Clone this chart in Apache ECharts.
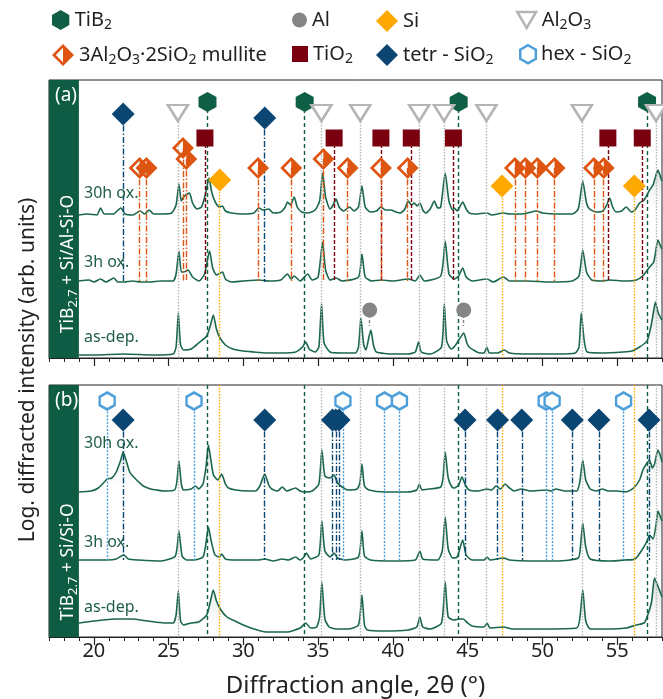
<!DOCTYPE html>
<html>
<head>
<meta charset="utf-8">
<title>XRD TiB2.7 + Si/Al-Si-O</title>
<script src="https://cdn.jsdelivr.net/npm/echarts@6/dist/echarts.min.js"></script>
<style>
  html, body { margin: 0; padding: 0; background: #fff; }
  #chart { width: 663px; height: 699px; }
</style>
</head>
<body>
<div id="chart"></div>
<script>
// ---- diffractograms, [2theta, log intensity above own baseline] ----
const a30h = [[19.0,0],[19.6,1],[20.2,0],[20.45,7],[20.7,1],[21.3,1],[21.8,7],[22.1,1],[22.6,0],[23.1,4],[23.4,1],[23.7,5],[24.0,1],[24.6,1],[25.2,2],[25.5,10],[25.69,31],[25.85,14],[26.0,18],[26.25,21],[26.4,22],[26.6,12],[26.9,6],[27.2,8],[27.45,20],[27.7,37],[27.9,22],[28.15,12],[28.4,8],[28.6,9],[28.8,4],[29.2,2],[30.0,1],[30.7,2],[31.05,7],[31.3,5],[31.7,6],[32.0,2],[32.5,3],[32.8,8],[32.95,13],[33.15,10],[33.4,18],[33.6,8],[33.9,3],[34.3,2],[34.8,5],[35.1,14],[35.3,42],[35.5,18],[35.8,6],[36.0,10],[36.2,16],[36.4,8],[36.7,4],[37.1,8],[37.4,4],[37.7,8],[37.93,29],[38.15,8],[38.5,3],[38.9,4],[39.2,8],[39.5,5],[39.87,5],[40.2,3],[40.5,2],[40.8,6],[41.03,14],[41.25,10],[41.43,12],[41.62,9],[41.81,12],[42.0,5],[42.2,2],[42.5,6],[42.77,14],[43.0,7],[43.2,8],[43.5,42],[43.75,14],[44.0,5],[44.1,7],[44.3,4],[44.67,13],[44.9,6],[45.1,2],[45.5,1],[46.3,2],[46.6,0],[47.4,2],[47.8,1],[48.5,1],[49.0,2],[49.58,4],[50.0,2],[51.0,1],[52.0,1],[52.4,6],[52.7,34],[52.95,12],[53.15,6],[53.6,3],[54.04,4],[54.3,10],[54.5,17],[54.7,8],[54.94,3],[55.3,4],[55.61,8],[55.95,3],[56.2,5],[56.5,12],[56.8,15],[57.17,25],[57.4,30],[57.6,40],[57.73,45],[57.9,38],[58.0,34]];
const a3h = [[19.0,1],[19.67,2],[20.0,0],[20.45,3],[20.8,0],[21.34,4],[21.6,0],[22.0,0],[22.6,1],[23.1,0],[23.7,0],[24.5,1],[25.3,1],[25.5,8],[25.69,31],[25.85,10],[26.0,10],[26.3,12],[26.6,5],[27.03,1],[27.4,8],[27.74,31],[27.95,14],[28.2,7],[28.6,10],[28.8,3],[29.2,0],[30.0,1],[31.05,2],[31.7,1],[32.5,2],[32.95,8],[33.2,3],[33.4,6],[33.8,1],[34.3,8],[34.6,2],[35.0,5],[35.3,40],[35.5,12],[35.8,2],[36.2,4],[36.6,1],[37.7,5],[37.93,28],[38.15,5],[38.6,1],[39.2,2],[40.0,1],[41.03,3],[41.5,1],[41.81,7],[42.1,1],[43.2,6],[43.5,41],[43.75,8],[44.1,3],[44.4,6],[44.67,14],[44.9,5],[45.3,1],[46.3,3],[46.7,0],[47.4,5],[47.8,1],[49.0,1],[50.5,0],[52.0,1],[52.45,6],[52.7,32],[52.95,10],[53.3,2],[54.0,1],[54.5,2],[55.5,1],[56.28,2],[56.7,6],[57.17,15],[57.45,20],[57.73,42],[57.9,36],[58.0,33]];
const aAsDep = [[19.0,0],[20.0,0],[22.0,1],[24.0,0],[25.3,1],[25.5,8],[25.65,42],[25.8,10],[26.0,5],[26.5,6],[27.0,12],[27.55,19],[27.8,30],[27.99,40],[28.2,26],[28.4,18],[28.8,10],[29.3,6],[30.0,4],[30.7,3],[31.5,2],[32.5,2],[33.5,3],[33.95,8],[34.17,13],[34.4,6],[34.8,3],[35.05,8],[35.23,51],[35.4,12],[35.8,3],[36.5,2],[37.5,2],[37.7,8],[37.86,37],[38.05,10],[38.2,5],[38.4,18],[38.53,25],[38.7,10],[38.9,3],[40.0,1],[41.0,1],[41.5,3],[41.72,13],[41.9,3],[42.5,1],[43.25,8],[43.44,51],[43.6,14],[43.9,6],[44.2,10],[44.45,16],[44.74,22],[44.95,12],[45.1,8],[45.5,4],[45.8,2],[46.1,2],[46.28,8],[46.45,2],[47.0,2],[47.46,5],[47.8,2],[49.0,1],[51.0,1],[52.2,2],[52.45,8],[52.6,42],[52.8,14],[53.0,3],[54.0,2],[55.4,3],[56.0,4],[56.5,8],[57.0,14],[57.28,30],[57.45,45],[57.56,53],[57.75,42],[58.0,35]];

const b30h = [[19.0,0],[19.8,1],[20.3,4],[20.7,10],[20.9,13],[21.2,14],[21.5,20],[21.8,32],[21.96,40],[22.15,32],[22.4,20],[22.6,16],[23.0,10],[23.3,6],[23.8,3],[24.2,2],[24.8,1],[25.4,2],[25.55,10],[25.69,31],[25.85,8],[26.0,2],[26.5,3],[26.8,6],[27.0,3],[27.3,8],[27.5,25],[27.66,47],[27.85,30],[28.0,17],[28.3,12],[28.55,18],[28.8,8],[29.0,4],[29.5,2],[30.3,1],[30.8,1],[31.1,6],[31.43,18],[31.7,7],[31.9,3],[32.3,1],[32.6,5],[32.9,1],[33.5,4],[33.8,1],[34.1,0],[34.6,1],[35.05,8],[35.25,42],[35.45,16],[35.74,14],[35.9,15],[36.07,17],[36.3,9],[36.6,5],[37.0,2],[37.6,3],[37.8,10],[37.93,28],[38.1,6],[38.4,2],[39.5,0],[41.0,0],[41.6,2],[41.77,8],[41.95,2],[42.4,3],[43.2,5],[43.35,14],[43.5,40],[43.7,14],[43.95,5],[44.1,4],[44.4,7],[44.62,15],[44.85,7],[45.1,2],[45.7,1],[46.28,3],[46.6,2],[46.9,6],[47.2,3],[47.5,8],[47.8,4],[48.1,1],[48.6,3],[49.2,1],[50.25,2],[50.6,1],[50.9,3],[51.5,1],[52.3,1],[52.5,10],[52.7,32],[52.9,12],[53.2,3],[53.6,1],[54.0,3],[54.4,1],[55.0,1],[55.6,0],[56.1,4],[56.5,12],[56.72,22],[56.95,28],[57.17,32],[57.35,24],[57.5,28],[57.73,42],[57.9,36],[58.0,30]];
const b3h = [[19.0,1],[20.0,1],[20.9,1],[21.5,2],[22.0,6],[22.3,2],[23.0,1],[24.5,0],[25.45,5],[25.69,30],[25.9,5],[26.2,1],[26.7,1],[27.3,4],[27.5,18],[27.66,34],[27.85,20],[28.1,6],[28.4,4],[28.55,7],[28.8,2],[29.5,1],[31.0,1],[31.43,2],[32.0,0],[32.6,2],[33.0,1],[33.5,4],[33.8,1],[34.05,4],[34.22,8],[34.5,2],[35.05,6],[35.25,40],[35.45,10],[35.8,4],[36.07,8],[36.3,3],[36.8,1],[37.7,4],[37.93,30],[38.1,5],[38.5,1],[40.0,0],[41.5,1],[41.81,10],[42.0,2],[43.0,1],[43.3,10],[43.5,44],[43.7,12],[44.0,3],[44.3,4],[44.67,21],[44.9,6],[45.3,1],[46.1,1],[46.3,4],[46.5,1],[47.4,3],[47.8,1],[49.5,0],[51.0,0],[52.4,3],[52.55,15],[52.7,38],[52.9,14],[53.2,2],[54.5,0],[55.5,1],[56.2,2],[56.7,12],[57.0,20],[57.17,26],[57.4,22],[57.6,36],[57.73,50],[57.9,44],[58.0,40]];
const bAsDep = [[19.0,14],[20.0,16],[21.4,18],[22.5,18],[23.6,16],[24.7,14],[25.3,14],[25.5,22],[25.65,46],[25.8,16],[26.0,12],[26.5,14],[27.0,15],[27.55,22],[27.8,36],[27.99,47],[28.2,36],[28.5,27],[28.9,20],[29.3,17],[30.0,12],[30.7,8],[31.5,5],[32.2,5],[32.9,5],[33.8,9],[34.17,14],[34.5,9],[34.9,10],[35.1,20],[35.25,55],[35.45,18],[35.74,10],[36.2,8],[37.0,8],[37.7,12],[37.93,42],[38.1,12],[38.3,7],[39.5,6],[41.0,7],[41.6,10],[41.8,20],[42.0,10],[42.5,8],[43.25,14],[43.5,55],[43.7,20],[44.1,17],[44.4,18],[44.7,18],[45.0,14],[45.3,11],[46.1,10],[46.3,14],[46.5,9],[47.4,10],[48.0,8],[50.0,8],[52.3,9],[52.5,18],[52.7,47],[52.9,16],[53.2,8],[54.5,8],[55.6,9],[56.3,12],[56.8,14],[57.0,20],[57.3,35],[57.5,59],[57.7,52],[58.0,40]];

// vertical offsets of the stacked patterns (30h, 3h, as-dep)
const offsetsA = [143, 76, 3];
const offsetsB = [145, 76, 0];
const curveNames = ['30h ox.', '3h ox.', 'as-dep.'];

// ---- reference peak positions (2theta) ----
const tib2Peaks = [27.6, 34.1, 44.4, 57.0];
const al2o3Peaks = [25.62, 35.22, 37.82, 41.76, 43.42, 46.26, 52.64, 57.6];
const siPeaks = [28.42, 47.3, 56.15];
const alPeaks = [38.45, 44.74];
const tio2Peaks = [27.43, 36.07, 39.2, 41.23, 44.05, 54.38, 56.68];
const mullitePeaks = [23.06, 23.52, 25.96, 26.18, 30.98, 33.2, 35.35, 36.97, 39.2, 40.99, 48.16, 48.86, 49.66, 50.81, 53.44, 54.1];
const tetrPeaksA = [21.96, 31.43];
const tetrPeaksB = [21.96, 31.43, 35.96, 36.18, 36.4, 44.83, 47.0, 48.62, 52.0, 53.78, 57.13];
const hexPeaksB = [20.89, 26.7, 36.66, 39.44, 40.44, 50.25, 50.65, 55.43];
const tickValues = [20, 25, 30, 35, 40, 45, 50, 55];

// marker rows (height of the tag above the panel floor)
const mulliteRows = [190, 190, 210, 199, 190, 190, 199, 190, 190, 190, 190, 190, 190, 190, 190, 190];
const siRows = [178, 172, 172];
const tetrRowsA = [244, 240];

const FONT = 'Noto Sans';
const GREEN = '#1a674b';
const hexPath = 'path://M10,0 L18.66,5 L18.66,15 L10,20 L1.34,15 L1.34,5 Z';
const triPath = 'path://M0,0 L20,0 L10,17 Z';
const mullitePath = 'path://M10,0 L20,10 L10,20 L0,10 Z M3.5,10 L10,16.5 L10,3.5 Z';

const C = {
  tib2: '#0e5f45', al: '#858585', si: '#ffa800', al2o3: '#b5b5b5',
  mullite: '#dd5511', tio2: '#7a0010', tetr: '#0b4673', hex: '#4d9fd9'
};

const chart = echarts.init(document.getElementById('chart'));

function curveSeries(data, off, axis) {
  return {
    type: 'line', xAxisIndex: axis * 2, yAxisIndex: axis,
    data: data.map(p => [p[0], p[1] + off]),
    showSymbol: false, smooth: 0.2, silent: true, z: 4,
    lineStyle: { color: GREEN, width: 1.6 },
    areaStyle: {
      origin: off,
      color: new echarts.graphic.LinearGradient(0, 0, 0, 1, [
        { offset: 0, color: 'rgba(40,80,60,0.30)' },
        { offset: 1, color: 'rgba(255,255,255,0)' }
      ])
    }
  };
}

function markers(name, peaks, rows, axis, symbol, size, style) {
  return {
    name: name, type: 'scatter', xAxisIndex: axis * 2, yAxisIndex: axis,
    data: peaks.map((x, i) => [x, Array.isArray(rows) ? rows[i] : rows]),
    symbol: symbol, symbolSize: size, itemStyle: Object.assign({ opacity: 1 }, style), z: 10, silent: true
  };
}

function drops(name, peaks, tops, bottom, axis, color, dash) {
  return {
    name: name, type: 'scatter', xAxisIndex: axis * 2, yAxisIndex: axis, data: [], z: 2,
    markLine: {
      silent: true, symbol: ['none', 'none'], label: { show: false },
      lineStyle: { color: color, width: 1.4, type: dash, opacity: 1 },
      emphasis: { disabled: true },
      data: peaks.map((x, i) => [
        { coord: [x, Array.isArray(tops) ? tops[i] : tops] },
        { coord: [x, bottom] }
      ])
    }
  };
}

function band(axis) {
  return {
    type: 'scatter', xAxisIndex: axis * 2, yAxisIndex: axis, data: [], z: 1,
    markArea: {
      silent: true, itemStyle: { color: '#0e5c43', opacity: 1 },
      data: [[{ xAxis: 17 }, { xAxis: 19 }]]
    }
  };
}

function xAxes(grid, labels) {
  return [{
    gridIndex: grid, type: 'value', min: 17, max: 58, position: 'bottom',
    axisLine: { lineStyle: { color: '#222', width: 1 } },
    axisTick: { customValues: tickValues, length: 8, lineStyle: { color: '#222', width: 1.2 } },
    axisLabel: { show: labels, customValues: tickValues, fontSize: 20, color: '#222', fontFamily: FONT, margin: 4 },
    splitLine: { show: false },
    name: labels ? 'Diffraction angle, 2θ (°)' : '',
    nameLocation: 'middle', nameGap: 37,
    nameTextStyle: { fontSize: 24, color: '#222', fontFamily: FONT }
  }, {
    gridIndex: grid, type: 'value', min: 17, max: 58, interval: 1, position: 'bottom',
    axisLine: { show: false },
    axisTick: { length: 4, lineStyle: { color: '#222', width: 1 } },
    axisLabel: { show: false }, splitLine: { show: false }
  }];
}

const dashDot = [6, 2, 1.5, 2];
const dotted = [1.5, 1.5];
const dashed = [4, 3];

const series = [
  band(0), band(1),
  // panel (a) drop lines
  drops('tib2a', tib2Peaks, 256, 0, 0, C.tib2, dashed),
  drops('al2o3a', al2o3Peaks, 245, 0, 0, C.al2o3, dotted),
  drops('sia', siPeaks, siRows, 0, 0, C.si, dotted),
  drops('tio2a', tio2Peaks, 220, 76, 0, C.tio2, [4, 2]),
  drops('mullitea', mullitePeaks, mulliteRows, 76, 0, C.mullite, dashDot),
  drops('tetra', tetrPeaksA, tetrRowsA, 76, 0, C.tetr, dashDot),
  drops('ala', alPeaks, 48, 32, 0, C.al, [3, 2]),
  // panel (b) drop lines
  drops('tib2b', tib2Peaks, 252, 0, 1, C.tib2, dashed),
  drops('al2o3b', al2o3Peaks, 252, 0, 1, C.al2o3, dotted),
  drops('sib', siPeaks, 252, 0, 1, C.si, dotted),
  drops('hexb', hexPeaksB, 236, 77, 1, C.hex, [2, 1.5]),
  drops('tetrb', tetrPeaksB, 217, 77, 1, C.tetr, dashDot),
  // curves
  curveSeries(a30h, offsetsA[0], 0), curveSeries(a3h, offsetsA[1], 0), curveSeries(aAsDep, offsetsA[2], 0),
  curveSeries(b30h, offsetsB[0], 1), curveSeries(b3h, offsetsB[1], 1), curveSeries(bAsDep, offsetsB[2], 1),
  // markers panel (a)
  markers('TiB2', tib2Peaks, 256, 0, hexPath, [18, 20], { color: C.tib2 }),
  markers('Al2O3', al2o3Peaks, 245, 0, triPath, [20, 16], { color: '#fff', borderColor: C.al2o3, borderWidth: 2.5 }),
  markers('TiO2', tio2Peaks, 220, 0, 'rect', 17, { color: C.tio2 }),
  markers('mullite', mullitePeaks, mulliteRows, 0, mullitePath, 22, { color: C.mullite }),
  markers('Si', siPeaks, siRows, 0, 'diamond', 23, { color: C.si }),
  markers('tetr', tetrPeaksA, tetrRowsA, 0, 'diamond', 23, { color: C.tetr }),
  markers('Al', alPeaks, 48, 0, 'circle', 15, { color: C.al }),
  // markers panel (b)
  markers('hex', hexPeaksB, 236, 1, hexPath, [15, 17], { color: '#fff', borderColor: C.hex, borderWidth: 2.5 }),
  markers('tetr', tetrPeaksB, 217, 1, 'diamond', 23, { color: C.tetr })
];

const legendText = {
  'TiB2': '{t|TiB}{s|2}',
  'Al': '{t|Al}',
  'Si': '{t|Si}',
  'Al2O3': '{t|Al}{s|2}{t|O}{s|3}',
  'mullite': '{t|3Al}{s|2}{t|O}{s|3}{t|·2SiO}{s|2}{t| mullite}',
  'TiO2': '{t|TiO}{s|2}',
  'tetr': '{t|tetr - SiO}{s|2}',
  'hex': '{t|hex - SiO}{s|2}'
};
const rich = {
  t: { fontSize: 20, color: '#222', fontFamily: FONT },
  s: { fontSize: 14, color: '#222', fontFamily: FONT, padding: [11, 0, 0, 0] }
};
function legendItem(name, left, top, icon, w, h, style) {
  return {
    left: left, top: top, selectedMode: false, itemWidth: w, itemHeight: h, itemGap: 0,
    data: [{ name: name, icon: icon, itemStyle: Object.assign({ opacity: 1 }, style) }],
    formatter: n => legendText[n],
    textStyle: { rich: rich, fontSize: 20, fontFamily: FONT }
  };
}

const legends = [
  legendItem('TiB2', 47, 5, hexPath, 18, 20, { color: C.tib2 }),
  legendItem('Al', 287, 5, 'circle', 15, 15, { color: C.al }),
  legendItem('Si', 371, 5, 'diamond', 22, 22, { color: C.si }),
  legendItem('Al2O3', 511, 5, triPath, 20, 16, { color: '#fff', borderColor: C.al2o3, borderWidth: 2.5 }),
  legendItem('mullite', 47, 39, mullitePath, 22, 22, { color: C.mullite }),
  legendItem('TiO2', 287, 39, 'rect', 16, 16, { color: C.tio2 }),
  legendItem('tetr', 371, 39, 'diamond', 22, 22, { color: C.tetr }),
  legendItem('hex', 514, 39, hexPath, 16, 18, { color: '#fff', borderColor: C.hex, borderWidth: 2.5 })
];

function label(text, x, y) {
  return { type: 'text', x: x, y: y, z: 20, silent: true,
    style: { text: text, fill: '#1f5e48', font: '16px "Noto Sans"', verticalAlign: 'middle' } };
}
const bandRich = {
  t: { fontSize: 17.5, fill: '#fff', fontFamily: FONT },
  s: { fontSize: 13, fill: '#fff', fontFamily: FONT, padding: [10, 0, 0, 0] }
};

const graphics = [
  { type: 'text', x: 28, y: 370, rotation: Math.PI / 2, silent: true,
    style: { text: 'Log. diffracted intensity (arb. units)', fill: '#222', font: '21px "Noto Sans"', align: 'center', verticalAlign: 'middle' } },
  { type: 'text', x: 55, y: 96, z: 20, silent: true, style: { text: '(a)', fill: '#fff', font: '19px "Noto Sans"', verticalAlign: 'middle' } },
  { type: 'text', x: 55, y: 401, z: 20, silent: true, style: { text: '(b)', fill: '#fff', font: '19px "Noto Sans"', verticalAlign: 'middle' } },
  { type: 'text', x: 68, y: 264, z: 20, rotation: Math.PI / 2, silent: true,
    style: { text: '{t|TiB}{s|2.7}{t| + Si/Al-Si-O}', rich: bandRich, align: 'center', verticalAlign: 'middle' } },
  { type: 'text', x: 68, y: 562, z: 20, rotation: Math.PI / 2, silent: true,
    style: { text: '{t|TiB}{s|2.7}{t| + Si/Si-O}', rich: bandRich, align: 'center', verticalAlign: 'middle' } },
  label(curveNames[0], 84, 193), label(curveNames[1], 84, 262), label(curveNames[2], 84, 337),
  label(curveNames[0], 84, 443), label(curveNames[1], 84, 542), label(curveNames[2], 84, 607)
];

chart.setOption({
  animation: false,
  backgroundColor: '#fff',
  textStyle: { fontFamily: FONT },
  grid: [
    { left: 49, top: 80, width: 613, height: 278, show: true, borderColor: '#222', borderWidth: 1 },
    { left: 49, top: 385, width: 613, height: 252, show: true, borderColor: '#222', borderWidth: 1 }
  ],
  xAxis: xAxes(0, false).concat(xAxes(1, true)),
  yAxis: [
    { gridIndex: 0, type: 'value', min: 0, max: 278, show: false },
    { gridIndex: 1, type: 'value', min: 0, max: 252, show: false }
  ],
  legend: legends,
  graphic: graphics,
  series: series
});
</script>
</body>
</html>
